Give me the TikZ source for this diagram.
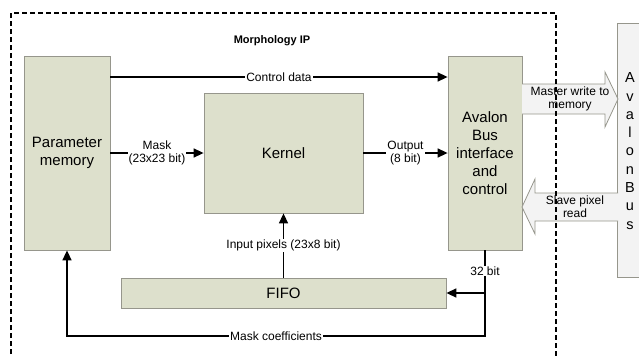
\documentclass[tikz,border=0pt]{standalone}
\usepackage{fontspec}
\setmainfont{Liberation Sans}
\usetikzlibrary{arrows.meta, positioning, calc}

\definecolor{boxfill}{RGB}{221,224,204}
\definecolor{boxline}{RGB}{150,150,140}
\definecolor{busfill}{RGB}{243,243,243}

\begin{document}
\begin{tikzpicture}[x=1pt,y=-1pt,
    block/.style={draw=boxline,fill=boxfill,line width=0.8pt,align=center,inner sep=0pt,
                  font=\fontsize{15}{18}\selectfont},
    lbl/.style={fill=white,inner sep=1pt,align=center,font=\fontsize{12}{13}\selectfont},
    wire/.style={line width=1.5pt,-{Triangle[length=10pt,width=9pt]}},
    bigarrow/.style={draw=boxline,fill=busfill,line width=0.8pt}]

    \useasboundingbox (0,0) rectangle (639,356);

    % blocks
    \node[block,minimum width=86pt,minimum height=194pt]  (param)  at (67,153)    {Parameter\\memory};
    \node[block,minimum width=159pt,minimum height=120pt] (kernel) at (283.5,153) {Kernel};
    \node[block,minimum width=74pt,minimum height=194pt]  (avalon) at (485,153)   {Avalon\\Bus\\interface\\and\\control};
    \node[block,minimum width=325pt,minimum height=30pt]  (fifo)   at (283.5,293) {FIFO};
    \node[bigarrow,minimum width=30pt,minimum height=254pt,anchor=north west] (bus) at (617,23) {};
    \node[align=center,font=\fontsize{14.5}{18.3}\selectfont] (busname) at (630,151)
        {A\\v\\a\\l\\o\\n\\B\\u\\s};

    % bus arrows
    \draw[bigarrow] (522,84) -- (605,84) -- (605,72) -- (618,99) -- (605,127) -- (605,114) -- (522,114);
    \draw[bigarrow] (618,193) -- (535,193) -- (535,179) -- (522,207) -- (535,234) -- (535,221) -- (618,221);
    \node[align=center,font=\fontsize{12}{13}\selectfont] (master) at (570,99)  {Master write to\\memory};
    \node[align=center,font=\fontsize{12}{13}\selectfont] (slave)  at (575,207) {Slave pixel\\read};

    % data paths
    \coordinate (ctrl) at (param.east |- 0,77);
    \path[wire] (ctrl) edge node[lbl] {Control data} (avalon.west |- ctrl)
                (param.east) edge node[lbl] {Mask\\(23x23 bit)} (kernel.west)
                (kernel.east) edge node[lbl] {Output\\(8 bit)} (avalon.west)
                (fifo.north) edge node[lbl] {Input pixels (23x8 bit)} (kernel.south);

    \coordinate (split) at (avalon.south |- fifo.east);
    \coordinate (bottom) at (485,336);
    \draw[wire] (avalon.south) -- node[lbl,pos=0.24] {32 bit} (bottom) -- node[lbl] {Mask coefficients} (param.south |- bottom) -- (param.south);
    \draw[wire] (split) -- (fifo.east);

    % IP frame
    \draw[line width=1.5pt,dash pattern=on 5pt off 3pt] (11,370) -- (11,13) -- (556,13) -- (556,370);
    \node[font=\fontsize{11}{13}\selectfont\bfseries] (title) at (272,41) {Morphology IP};
\end{tikzpicture}
\end{document}
